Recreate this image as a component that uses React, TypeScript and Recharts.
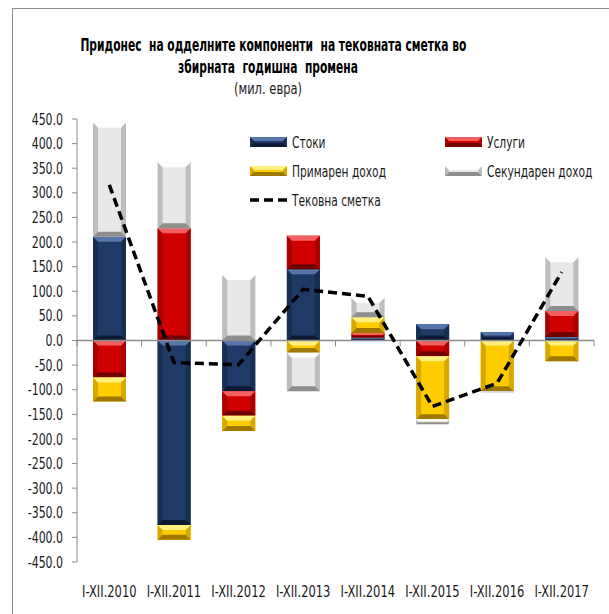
import React from 'react';
import { ComposedChart, Bar, Line, XAxis, YAxis, ReferenceLine, Legend } from 'recharts';

const categories = ['I-XII.2010', 'I-XII.2011', 'I-XII.2012', 'I-XII.2013', 'I-XII.2014', 'I-XII.2015', 'I-XII.2016', 'I-XII.2017'];
const stoki = [211, -375, -103, 145, 6, 33, 17, 7];
const uslugi = [-75, 228, -50, 68, 9, -32, 0, 53];
const primaren = [-49, -30, -31, -25, 32, -128, -103, -42];
const sekundaren = [232, 134, 133, -78, 40, -10, -2, 109];
const tekovna = [316, -45, -49, 104, 90, -134, -87, 139];
const yTicks = [450, 400, 350, 300, 250, 200, 150, 100, 50, 0, -50, -100, -150, -200, -250, -300, -350, -400, -450];

const data = categories.map((c, i) => ({
  name: c,
  stoki: stoki[i],
  uslugi: uslugi[i],
  primaren: primaren[i],
  sekundaren: sekundaren[i],
  tekovna: tekovna[i],
}));

const FONT = '"DejaVu Sans Condensed", "DejaVu Sans", sans-serif';

type Pal = { base: string; light: string; lighter: string; dark: string; mid: string };
const PAL: Record<string, Pal> = {
  stoki: { base: '#1F3A66', light: '#2C4A7C', lighter: '#5675A8', dark: '#0C1A33', mid: '#172D52' },
  uslugi: { base: '#D00000', light: '#DD1A1A', lighter: '#F06060', dark: '#700000', mid: '#A80000' },
  primaren: { base: '#FFCC00', light: '#FFD820', lighter: '#FFF080', dark: '#A07800', mid: '#D9A800' },
  sekundaren: { base: '#E8E8E8', light: '#F2F2F2', lighter: '#FFFFFF', dark: '#8E8E8E', mid: '#BDBDBD' },
};

function BevelRect({ x, y, w, h, pal }: { x: number; y: number; w: number; h: number; pal: Pal }) {
  if (h < 0) { y = y + h; h = -h; }
  if (w < 0) { x = x + w; w = -w; }
  if (h < 0.5 || w < 0.5) return null;
  const b = Math.max(0, Math.min(5, h / 2.5, w / 2.5));
  return (
    <g>
      <rect x={x} y={y} width={w} height={h} fill={pal.base} />
      <polygon points={`${x},${y} ${x + b},${y + b} ${x + b},${y + h - b} ${x},${y + h}`} fill={pal.mid} />
      <polygon points={`${x + w},${y} ${x + w - b},${y + b} ${x + w - b},${y + h - b} ${x + w},${y + h}`} fill={pal.mid} />
      <polygon points={`${x},${y} ${x + w},${y} ${x + w - b},${y + b} ${x + b},${y + b}`} fill={pal.lighter} />
      <polygon points={`${x},${y + h} ${x + w},${y + h} ${x + w - b},${y + h - b} ${x + b},${y + h - b}`} fill={pal.dark} />
    </g>
  );
}

const makeShape = (key: string) => (props: any) => {
  const { x, y, width, height } = props;
  return <BevelRect x={x} y={y} w={width} h={height} pal={PAL[key]} />;
};

const ZeroAxis = (props: any) => {
  const { x1, x2, y1 } = props;
  const n = categories.length;
  const ticks = [];
  for (let i = 0; i <= n; i++) {
    const tx = x1 + ((x2 - x1) * i) / n;
    ticks.push(<line key={i} x1={tx} x2={tx} y1={y1} y2={y1 + 6} stroke="#8c8c8c" strokeWidth={1} />);
  }
  return (
    <g>
      <line x1={x1} x2={x2} y1={y1} y2={y1} stroke="#8c8c8c" strokeWidth={1.5} />
      {ticks}
    </g>
  );
};

const YTick = (p: any) => (
  <text
    x={p.x}
    y={p.y}
    dy="0.35em"
    textAnchor="end"
    fontSize={16}
    fontFamily={FONT}
    fontStretch="condensed"
    fill="#1a1a1a"
    transform={`translate(${p.x},0) scale(0.76,1) translate(${-p.x},0)`}
  >
    {Number(p.payload.value).toFixed(1)}
  </text>
);

const XTick = (p: any) => (
  <text
    x={p.x}
    y={p.y}
    dy="0.71em"
    textAnchor="middle"
    fontSize={16}
    fontFamily={FONT}
    fontStretch="condensed"
    fill="#1a1a1a"
    transform={`translate(${p.x},0) scale(0.8,1) translate(${-p.x},0)`}
  >
    {p.payload.value}
  </text>
);

const legendItems = [
  { key: 'stoki', label: 'Стоки', col: 0, row: 0 },
  { key: 'uslugi', label: 'Услуги', col: 1, row: 0 },
  { key: 'primaren', label: 'Примарен доход', col: 0, row: 1 },
  { key: 'sekundaren', label: 'Секундарен доход', col: 1, row: 1 },
  { key: 'tekovna', label: 'Тековна сметка', col: 0, row: 2 },
];

const renderLegend = () => (
  <div style={{ position: 'relative', width: 350, height: 90, fontFamily: FONT, fontStretch: 'condensed', fontSize: 16, color: '#1a1a1a' }}>
    {legendItems.map((it) => (
      <div key={it.key} style={{ position: 'absolute', left: it.col * 195, top: it.row * 29, display: 'flex', alignItems: 'center', height: 20, whiteSpace: 'nowrap' }}>
        <svg width={38} height={12} style={{ marginRight: 4, flex: 'none' }}>
          {it.key === 'tekovna' ? (
            <line x1={0} x2={38} y1={6} y2={6} stroke="#000" strokeWidth={3.5} strokeDasharray="9 5" />
          ) : (
            <BevelRect x={0} y={1} w={37} h={10} pal={PAL[it.key]} />
          )}
        </svg>
        <span style={{ display: 'inline-block', transform: 'scaleX(0.74)', transformOrigin: '0 50%' }}>{it.label}</span>
      </div>
    ))}
  </div>
);

export default function App() {
  return (
    <div style={{ position: 'absolute', left: 0, top: 0, width: 609, height: 614, background: '#fff', overflow: 'hidden' }}>
      <div style={{ position: 'absolute', left: 12, top: 8, width: 620, height: 620, borderLeft: '1px solid #8c8c8c', borderTop: '1px solid #8c8c8c' }} />
      <div style={{ position: 'absolute', left: 0, width: 536, top: 34, textAlign: 'center', fontFamily: FONT, fontStretch: 'condensed', fontWeight: 'bold', fontSize: 17, lineHeight: '22px', color: '#000', whiteSpace: 'nowrap', transform: 'scaleX(0.7)', transformOrigin: '268px 0' }}>
        <div>Придонес&nbsp; на одделните компоненти&nbsp; на тековната сметка во</div>
        <div>збирната&nbsp; годишна&nbsp; промена</div>
      </div>
      <div style={{ position: 'absolute', left: 0, width: 536, top: 79, textAlign: 'center', fontFamily: FONT, fontStretch: 'condensed', fontSize: 16, lineHeight: '20px', color: '#222', transform: 'scaleX(0.8)', transformOrigin: '268px 0' }}>
        (мил. евра)
      </div>
      <div style={{ position: 'absolute', left: 0, top: 0 }}>
        <ComposedChart width={609} height={614} data={data} stackOffset="sign" margin={{ top: 119, right: 15, bottom: 22, left: 0 }}>
          <XAxis
            dataKey="name"
            axisLine={false}
            tickLine={false}
            tickSize={0}
            tickMargin={24}
            interval={0}
            height={30}
            tick={XTick}
          />
          <YAxis
            domain={[-450, 450]}
            ticks={yTicks}
            interval={0}
            width={77}
            tickSize={5}
            tickMargin={9}
            axisLine={{ stroke: '#8c8c8c' }}
            tickLine={{ stroke: '#8c8c8c' }}
            tick={YTick}
          />
          <Legend
            layout="horizontal"
            verticalAlign="middle"
            align="center"
            content={renderLegend}
            wrapperStyle={{ left: 250, top: 132, width: 350, height: 90 }}
          />
          <Bar dataKey="stoki" name="Стоки" stackId="a" barSize={33} fill={PAL.stoki.base} shape={makeShape('stoki')} isAnimationActive={false} />
          <Bar dataKey="uslugi" name="Услуги" stackId="a" barSize={33} fill={PAL.uslugi.base} shape={makeShape('uslugi')} isAnimationActive={false} />
          <Bar dataKey="primaren" name="Примарен доход" stackId="a" barSize={33} fill={PAL.primaren.base} shape={makeShape('primaren')} isAnimationActive={false} />
          <Bar dataKey="sekundaren" name="Секундарен доход" stackId="a" barSize={33} fill={PAL.sekundaren.base} shape={makeShape('sekundaren')} isAnimationActive={false} />
          <ReferenceLine y={0} shape={ZeroAxis} />
          <Line dataKey="tekovna" name="Тековна сметка" type="linear" stroke="#000" strokeWidth={3.5} strokeDasharray="9 5" dot={false} activeDot={false} isAnimationActive={false} />
        </ComposedChart>
      </div>
    </div>
  );
}
